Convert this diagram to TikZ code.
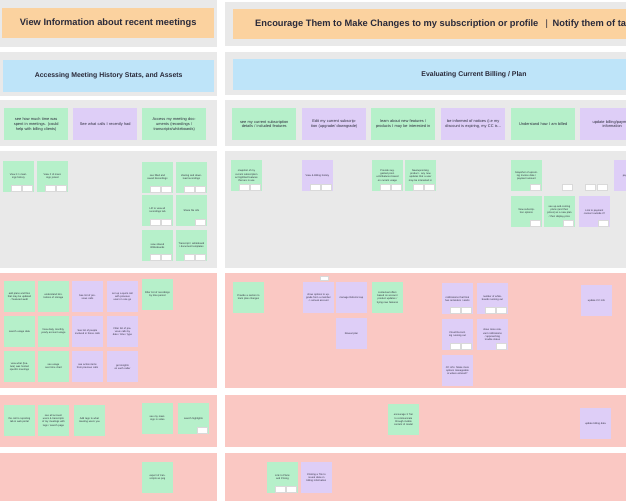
\documentclass[tikz,border=0pt]{standalone}
\usepackage{fontspec}
\setmainfont{Liberation Sans}
\definecolor{hdrorange}{HTML}{FBD29F}
\definecolor{hdrblue}{HTML}{BEE4F9}
\definecolor{stgreen}{HTML}{B6F0CA}
\definecolor{stpurple}{HTML}{DECEF7}
\definecolor{panelpink}{HTML}{FAC8C3}
\definecolor{panelgrey}{HTML}{E9E9E9}
\definecolor{inkdark}{HTML}{2A2A3A}
\tikzset{
  greypanel/.style={fill=panelgrey},
  pinkpanel/.style={fill=panelpink},
  hdrbox/.style={fill=hdrorange, anchor=north west, inner sep=0pt, text=inkdark,
     font=\fontsize{9.3}{11}\selectfont\bfseries},
  subbox/.style={fill=hdrblue, anchor=north west, inner sep=0pt, text=inkdark,
     font=\fontsize{6.9}{8}\selectfont\bfseries},
  card/.style={anchor=north west, minimum width=64pt, minimum height=32pt, inner sep=0pt,
     text width=58pt, align=center, text=inkdark, font=\fontsize{3.9}{4.8}\selectfont},
  gcard/.style={card, fill=stgreen},
  pcard/.style={card, fill=stpurple},
  sticky/.style={anchor=north west, minimum width=30.5pt, minimum height=31pt, inner sep=0pt,
     text width=26pt, align=center, text=inkdark, font=\fontsize{2.5}{3.1}\selectfont},
  gs/.style={sticky, fill=stgreen},
  ps/.style={sticky, fill=stpurple},
  tagbox/.style={fill=white, draw=black!15, line width=0.2pt, minimum width=10pt,
     minimum height=5.5pt, inner sep=0pt}
}
\newcommand{\twotags}[1]{%
  \node[tagbox, anchor=south east] (#1t2) at ([xshift=-1.5pt,yshift=1.5pt]#1.south east) {};
  \node[tagbox, anchor=south east] (#1t1) at ([xshift=-1.5pt]#1t2.south west) {};}
\newcommand{\onetag}[1]{%
  \node[tagbox, anchor=south east] (#1t1) at ([xshift=-1.5pt,yshift=1.5pt]#1.south east) {};}
\begin{document}
\begin{tikzpicture}[x=1pt,y=-1pt]
\useasboundingbox (0,0) rectangle (626,501);
\clip (0,0) rectangle (626,501);
\fill[white] (0,0) rectangle (626,501);
% ---------- panels ----------
\fill[greypanel] (0,0) rectangle (217,47);
\fill[greypanel] (225,2) rectangle (626,46);
\fill[greypanel] (0,52) rectangle (217,96);
\fill[greypanel] (225,52) rectangle (626,95);
\fill[greypanel] (0,100) rectangle (217,146);
\fill[greypanel] (225,100) rectangle (626,146);
\fill[greypanel] (0,151) rectangle (217,268);
\fill[greypanel] (225,151) rectangle (626,268);
\fill[pinkpanel] (0,273) rectangle (217,388);
\fill[pinkpanel] (225,273) rectangle (626,388);
\fill[pinkpanel] (0,395) rectangle (217,447);
\fill[pinkpanel] (225,395) rectangle (626,447);
\fill[pinkpanel] (0,453) rectangle (217,501);
\fill[pinkpanel] (225,453) rectangle (626,501);
% ---------- headers ----------
\node[hdrbox, minimum width=212pt, minimum height=30pt] (h1) at (2,8) {View Information about recent meetings};
\node[hdrbox, minimum width=400pt, minimum height=30pt, anchor=north west] (h2) at (233,9) {};
\node[font=\fontsize{9.3}{11}\selectfont\bfseries, text=inkdark, anchor=west, inner sep=0pt] (h2t) at (255,24)
  {Encourage Them to Make Changes to my subscription or profile \enspace{\fontseries{m}\selectfont|}\enspace Notify them of task status};
\node[subbox, minimum width=211pt, minimum height=32pt] (s1) at (3,60) {Accessing Meeting History Stats, and Assets};
\node[subbox, minimum width=400pt, minimum height=31pt] (s2) at (233,59) {};
\node[font=\fontsize{6.9}{8}\selectfont\bfseries, text=inkdark, inner sep=0pt] (s2t) at (474,75) {Evaluating Current Billing / Plan};
% ---------- task cards ----------
\node[gcard] (c1) at (4,108) {see how much time was spent in meetings. (could help with billing clients)};
\node[pcard] (c2) at (73,108) {See what calls I recently had};
\node[gcard] (c3) at (142,108) {Access my meeting documents (recordings / transcripts/whiteboards)};
\node[gcard] (c4) at (232,108) {see my current subscription details / included features};
\node[pcard] (c5) at (302,108) {Edit my current subscription (upgrade/ downgrade)};
\node[gcard] (c6) at (371,108) {learn about new features / products I may be interested in};
\node[pcard] (c7) at (441,108) {be informed of notices (i.e my discount is expiring, my CC is...};
\node[gcard] (c8) at (511,108) {Understand how I am billed};
\node[pcard] (c9) at (580,108) {update billing/payment information};
% ---------- row 4 stickies (grey) ----------
\node[gs] (a1) at (3,161) {View 1:1 meetings history};
\node[gs] (a2) at (37,161) {View \# of meetings joined};
\node[gs] (a3) at (142,162) {see filled and saved Recordings};
\node[gs] (a4) at (176,162) {sharing and download recordings};
\node[gs] (a5) at (142,195) {Lift to view all recordings tab};
\node[gs] (a6) at (176,195) {Share file info};
\node[gs] (a7) at (142,230) {view shared Whiteboards};
\node[gs] (a8) at (176,230) {Transcript / whiteboard / document templates};
\twotags{a1}\twotags{a2}\twotags{a3}\twotags{a4}\twotags{a5}\onetag{a6}\twotags{a7}\twotags{a8}
\node[gs] (b1) at (231,160) {snapshot of my current subscription w/ highlited features that are in use};
\node[ps] (b2) at (302,160) {View \& Billing history};
\node[gs] (b3) at (372,160) {Provide suggested products/features based on current usage};
\node[gs] (b4) at (405,160) {New/upcoming product - any new updates that a user may be interested in};
\node[gs] (b5) at (511,160) {Snapshot of upcoming Invoice date / payment amount};
\node[ps] (b6) at (614,160) {pay for plan};
\node[gs] (b7) at (511,196) {View subscription options};
\node[gs] (b8) at (544,196) {see up-and-coming plans (and their prices) as a new plan / their display price};
\node[ps] (b9) at (579,196) {Link to payment connect outside it?};
\twotags{b1}\twotags{b2}\twotags{b3}\twotags{b4}\onetag{b5}\onetag{b7}\onetag{b8}\onetag{b9}
\node[tagbox, anchor=north west] (ft1) at (562,184) {};
\node[tagbox, anchor=north west] (ft2) at (585,184) {};
\node[tagbox, anchor=north west] (ft3) at (597,184) {};
% ---------- row 5 stickies (pink) ----------
\node[gs] (d1) at (4,281) {add plans and files that may be updated / featured audit};
\node[gs] (d2) at (38,281) {understand limitations of storage};
\node[ps] (d3) at (72,281) {See list of previous calls};
\node[ps] (d4) at (107,281) {set up a quick call with previous users in one go};
\node[gs] (d5) at (142,279) {Filter list of recordings by time period};
\node[gs] (d6) at (4,316) {search usage data};
\node[gs] (d7) at (38,316) {View daily, monthly, yearly account usage};
\node[ps] (d8) at (72,316) {See list of people involved in those calls};
\node[ps] (d9) at (107,316) {Filter list of previous calls by date / time / type};
\node[gs] (d10) at (4,351) {view what (feature) was hosted specific meetings};
\node[gs] (d11) at (38,351) {see usage over time chart};
\node[ps] (d12) at (72,351) {see action items from previous calls};
\node[ps] (d13) at (107,351) {get insights on each caller};
\node[gs] (e1) at (233,282) {Provide a section to track plan changes};
\node[ps] (e2) at (303,282) {show options to upgrade from a member -> annual account};
\node[tagbox, minimum width=8pt, minimum height=4pt, anchor=north west] (e2t) at (320,276) {};
\node[ps] (e3) at (336,282) {manage Referral cap};
\node[gs] (e4) at (372,282) {contextual offers based on account product updates / trying new features};
\node[ps] (e5) at (336,318) {Reveal plan};
\node[ps] (e6) at (442,283) {notifications that final has reminders / alerts};
\node[ps] (e7) at (477,283) {number of whiteboards running out};
\node[ps] (e8) at (442,319) {Cloud Recording running out};
\node[ps] (e9) at (477,319) {show more relevant notifications / approaching trouble status};
\node[ps] (e10) at (442,355) {CC info: Make more options manageable \& where entered?};
\node[ps] (e11) at (581,285) {update CC info};
\twotags{e6}\twotags{e7}\twotags{e8}\onetag{e9}
% ---------- row 6 stickies ----------
\node[gs] (f1) at (4,405) {the call to reporting tab in web portal};
\node[gs] (f2) at (38,405) {see all account users \& transcripts of my meetings with tags / search page};
\node[gs] (f3) at (74,405) {Add tags to what meeting users you};
\node[gs] (f4) at (142,403) {see my meetings in video};
\node[gs] (f5) at (178,403) {search highlights};
\onetag{f5}
\node[gs] (f6) at (388,404) {encourage 3 Tier to communicate through mobile content of model};
\node[ps] (f7) at (580,408) {update billing data};
% ---------- row 7 stickies ----------
\node[gs] (g1) at (142,462) {export of transcripts as png};
\node[gs] (g2) at (267,462) {Link to Plans and Pricing};
\node[ps] (g3) at (301,462) {Clicking a Tile to reveal data on billing information};
\twotags{g2}
\end{tikzpicture}
\end{document}
